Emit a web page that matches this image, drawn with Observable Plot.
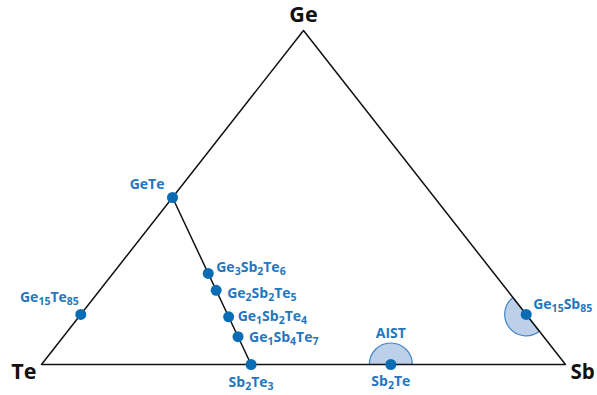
<!DOCTYPE html>
<html>
<head>
<meta charset="utf-8">
<script src="https://cdn.jsdelivr.net/npm/d3@7"></script>
<script src="https://cdn.jsdelivr.net/npm/@observablehq/plot@0.6"></script>
<style>
  html, body { margin: 0; padding: 0; background: #fff; overflow: hidden; }
  #chart svg { display: block; overflow: hidden; }
</style>
</head>
<body>
<div id="chart"></div>
<script>
// Ge–Sb–Te ternary phase diagram with common phase-change compositions.

// Corner elements (bottom-left, bottom-right, top)
const vertices = ["Te", "Sb", "Ge"];

// Compositions, given as atomic counts of Ge, Sb and Te
const compounds = ["GeTe", "Ge15Te85", "Ge3Sb2Te6", "Ge2Sb2Te5", "Ge1Sb2Te4", "Ge1Sb4Te7", "Sb2Te3", "Sb2Te", "Ge15Sb85"];
const geCount   = [1, 15, 3, 2, 1, 1, 0, 0, 15];
const sbCount   = [0, 0, 2, 2, 2, 4, 2, 2, 85];
const teCount   = [1, 85, 6, 5, 4, 7, 3, 1, 0];

// Shaded composition regions around two of the compounds, and the edge they sit on
const regionCenters = ["Sb2Te", "Ge15Sb85"];
const regionEdges   = ["Te-Sb", "Sb-Ge"];
const regionLabels  = ["AIST", ""];

// The GeTe–Sb2Te3 pseudo-binary tie line
const tieLine = ["GeTe", "Sb2Te3"];

// ---- ternary → cartesian (x = Sb + Ge/2, y = Ge) ----
const toXY = (ge, sb, te) => {
  const t = ge + sb + te;
  return {x: (sb + ge / 2) / t, y: ge / t};
};
const points = compounds.map((name, i) => ({name, ...toXY(geCount[i], sbCount[i], teCount[i])}));
const byName = new Map(points.map((p) => [p.name, p]));
const corner = {Te: toXY(0, 0, 1), Sb: toXY(0, 1, 0), Ge: toXY(1, 0, 0)};
const outline = [...vertices, vertices[0]].map((v) => ({name: v, ...corner[v]}));

// ---- layout ----
const W = 597, H = 395;
const M = {left: 41, right: 32, top: 30, bottom: 31};
const plotW = W - M.left - M.right, plotH = H - M.top - M.bottom;
const sideAngle = Math.atan2(plotH, plotW / 2) * 180 / Math.PI;
const edgeRotation = {"Te-Sb": 0, "Sb-Ge": sideAngle + 180};

const regions = regionCenters.map((c, i) => ({...byName.get(c), edge: regionEdges[i], label: regionLabels[i]}));

// half-disc symbol: flat side along the x axis, round side towards −y
const halfDisc = {
  draw(context, size) {
    const r = Math.sqrt(size / Math.PI);
    context.moveTo(r, 0);
    context.arc(0, 0, r, 0, Math.PI, true);
    context.closePath();
  }
};

const blue = "#0a6cb4";
const labelBlue = "#2576bc";
const labelFont = {fontFamily: "Open Sans", fontWeight: 700, fontSize: 14, fill: labelBlue};
const cornerFont = {fontFamily: "Open Sans", fontWeight: 700, fontSize: 21.5, fill: "#111"};
const subSize = 10.5, subShift = 3;

// label placement of each compound name relative to its dot
const place = {
  "GeTe":      {textAnchor: "end",    dx: -8, dy: -13},
  "Ge15Te85":  {textAnchor: "end",    dx: -2, dy: -17},
  "Ge3Sb2Te6": {textAnchor: "start",  dx: 8,  dy: -6},
  "Ge2Sb2Te5": {textAnchor: "start",  dx: 11, dy: 3},
  "Ge1Sb2Te4": {textAnchor: "start",  dx: 9,  dy: 0},
  "Ge1Sb4Te7": {textAnchor: "start",  dx: 11, dy: 1},
  "Sb2Te3":    {textAnchor: "middle", dx: 0,  dy: 18},
  "Sb2Te":     {textAnchor: "middle", dx: 0,  dy: 17},
  "Ge15Sb85":  {textAnchor: "start",  dx: 7,  dy: -10}
};
const cornerPlace = {
  Te: {textAnchor: "end",    dx: -5, dy: 8},
  Sb: {textAnchor: "start",  dx: 5,  dy: 8, fontSize: 20.5},
  Ge: {textAnchor: "middle", dx: 0,  dy: -15}
};

const plot = Plot.plot({
  width: W,
  height: H,
  marginLeft: M.left,
  marginRight: M.right,
  marginTop: M.top,
  marginBottom: M.bottom,
  x: {domain: [0, 1], axis: null},
  y: {domain: [0, 1], axis: null},
  marks: [
    Plot.dot(regions, {
      x: "x", y: "y", r: 21.5,
      symbol: halfDisc,
      rotate: (d) => edgeRotation[d.edge],
      fill: "#bcd0ea", stroke: "#4586c6", strokeWidth: 1.2
    }),
    Plot.line(outline, {x: "x", y: "y", stroke: "#111", strokeWidth: 1.5}),
    Plot.line(tieLine.map((n) => byName.get(n)), {x: "x", y: "y", stroke: "#111", strokeWidth: 1.5}),
    Plot.dot(points, {x: "x", y: "y", r: 5.5, fill: blue}),
    ...points.map((p) => Plot.text([p], {
      x: "x", y: "y", text: "name",
      ...place[p.name], ...labelFont
    })),
    Plot.text(regions.filter((d) => d.label), {
      x: "x", y: "y", text: "label", textAnchor: "middle", dy: -31, ...labelFont
    }),
    ...vertices.map((v) => Plot.text([{name: v, ...corner[v]}], {
      x: "x", y: "y", text: "name", ...cornerFont, ...cornerPlace[v]
    }))
  ]
});

// render the digits of chemical formulas as subscripts
const formulaNames = new Set(compounds);
d3.select(plot).selectAll("text").each(function () {
  if (!formulaNames.has(this.textContent)) return;
  const parts = this.textContent.split(/(\d+)/).filter((s) => s.length);
  this.textContent = "";
  let down = false;
  for (const part of parts) {
    const t = document.createElementNS("http://www.w3.org/2000/svg", "tspan");
    t.textContent = part;
    if (/^\d+$/.test(part)) {
      t.setAttribute("font-size", subSize);
      if (!down) { t.setAttribute("dy", subShift); down = true; }
    } else if (down) {
      t.setAttribute("dy", -subShift);
      down = false;
    }
    this.appendChild(t);
  }
});

document.getElementById("chart").appendChild(plot);
</script>
</body>
</html>
